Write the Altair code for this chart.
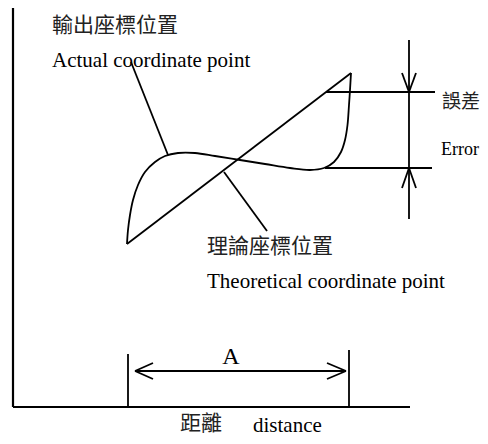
import altair as alt
import pandas as pd

# ---- diagram data (positions in diagram units) ----
# actual coordinate curve
actual_x = [127, 128, 130, 133, 138, 145, 155, 165, 178, 195, 215, 240, 265, 290, 310, 324, 334, 341, 345, 347.5, 349, 350, 351]
actual_y = [244, 230, 215, 200, 185, 172, 162, 156, 153, 153, 156, 160, 164, 168, 170, 168, 162, 152, 140, 125, 105, 90, 73]

# straight segments: theoretical line, axes, ticks, dimension/error lines, arrowheads, leaders
seg_x1 = [127, 13, 13, 128, 349, 135, 135, 135, 346, 346, 326, 325, 409, 409, 409, 409, 409, 131, 224]
seg_y1 = [244, 5, 407, 354, 350, 371, 371, 371, 371, 371, 92, 168, 40, 92, 92, 168, 168, 62, 172]
seg_x2 = [351, 13, 410, 128, 349, 346, 153, 153, 327, 327, 435, 432, 409, 402, 416, 402, 416, 168, 267]
seg_y2 = [73, 407, 407, 407, 407, 371, 363, 379, 363, 379, 92, 168, 219, 73, 73, 188, 188, 155, 231]
seg_w = [1.8, 2.2, 2.2, 1.8, 1.8, 1.8, 1.8, 1.8, 1.8, 1.8, 1.8, 1.8, 1.8, 1.8, 1.8, 1.8, 1.8, 1.8, 1.8]

# labels
latin_text = ["Actual coordinate point", "Theoretical coordinate point", "Error", "distance"]
latin_x = [52, 207, 441, 253]
latin_y = [67, 288, 155, 432]
latin_size = [21, 21, 18, 21]

cjk_text = ["輸出座標位置", "理論座標位置", "誤差", "距離"]
cjk_x = [52, 207, 442, 180]
cjk_y = [26, 247, 102, 424]
cjk_size = [21, 21, 19, 21]

dim_text = ["A"]
dim_x = [231]
dim_y = [364]

# ---- tables ----
curve = pd.DataFrame({"x": actual_x, "y": actual_y, "i": list(range(len(actual_x)))})
segs = pd.DataFrame({"x": seg_x1, "y": seg_y1, "x2": seg_x2, "y2": seg_y2, "w": seg_w})
latin = pd.DataFrame({"x": latin_x, "y": latin_y, "t": latin_text, "s": latin_size})
cjk = pd.DataFrame({"x": cjk_x, "y": cjk_y, "t": cjk_text, "s": cjk_size})
dim = pd.DataFrame({"x": dim_x, "y": dim_y, "t": dim_text})

W, H = 472, 428
xs = alt.Scale(domain=[8, 8 + W], nice=False, zero=False)
ys = alt.Scale(domain=[8, 8 + H], nice=False, zero=False, reverse=True)

X = lambda f: alt.X(f, scale=xs, axis=None)
Y = lambda f: alt.Y(f, scale=ys, axis=None)

lines = alt.Chart(segs).mark_rule(color="black", strokeCap="butt").encode(
    x=X("x:Q"), y=Y("y:Q"), x2="x2:Q", y2="y2:Q",
    strokeWidth=alt.StrokeWidth("w:Q", scale=None, legend=None),
)

curve_layer = alt.Chart(curve).mark_line(
    color="black", strokeWidth=1.8, interpolate="catmull-rom"
).encode(x=X("x:Q"), y=Y("y:Q"), order="i:Q")

latin_layer = alt.Chart(latin).mark_text(
    align="left", baseline="alphabetic", font="Liberation Serif", color="black"
).encode(x=X("x:Q"), y=Y("y:Q"), text="t:N", size=alt.Size("s:Q", scale=None, legend=None))

cjk_layer = alt.Chart(cjk).mark_text(
    align="left", baseline="middle", font="Noto Sans CJK TC", color="#222222"
).encode(x=X("x:Q"), y=Y("y:Q"), text="t:N", size=alt.Size("s:Q", scale=None, legend=None))

dim_layer = alt.Chart(dim).mark_text(
    align="center", baseline="alphabetic", font="Liberation Serif", fontSize=24, color="black"
).encode(x=X("x:Q"), y=Y("y:Q"), text="t:N")

chart = alt.layer(lines, curve_layer, latin_layer, cjk_layer, dim_layer).properties(
    width=W, height=H, padding=0, autosize=alt.AutoSizeParams(type="none")
).configure_view(stroke=None)

chart.save("out.html", embed_options={"renderer": "svg", "actions": False})
